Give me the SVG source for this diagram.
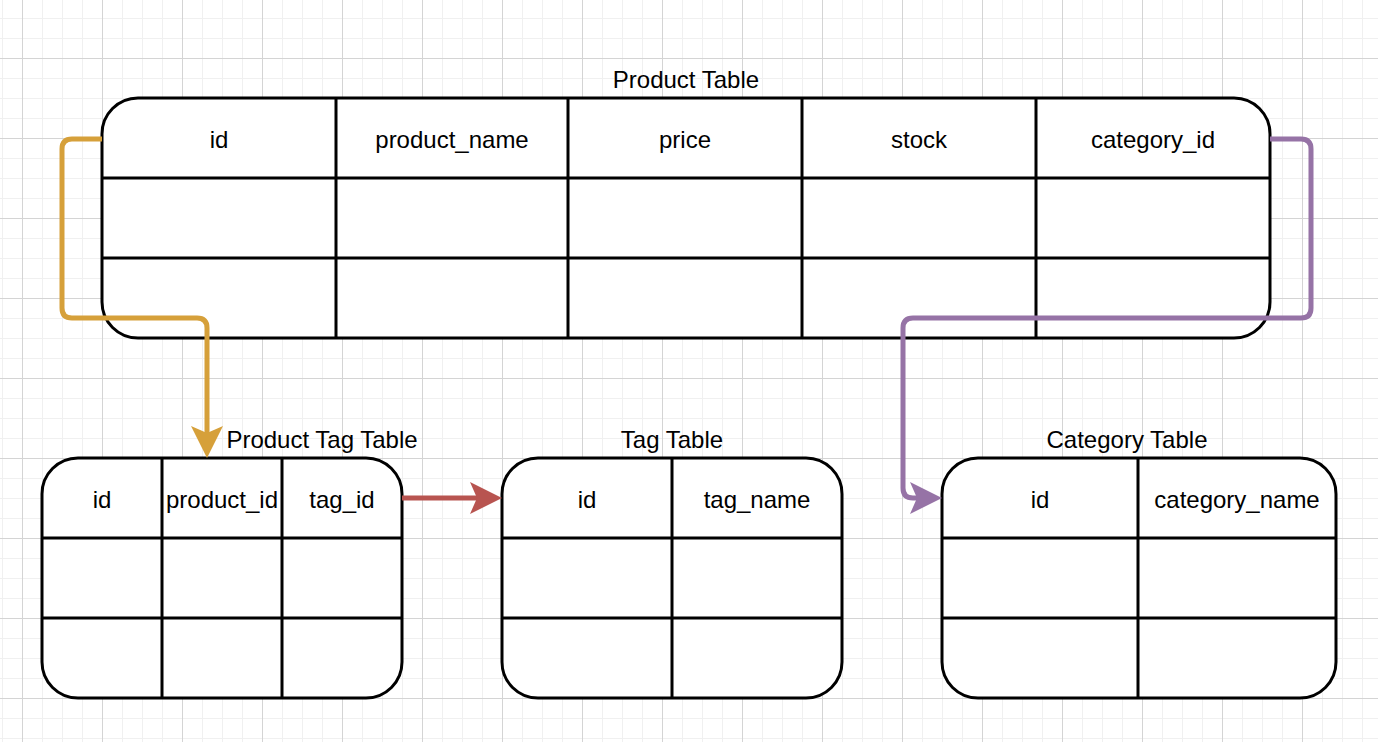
<svg xmlns="http://www.w3.org/2000/svg" width="1378" height="742" viewBox="0 0 1378 742">
<style>
.tbl{fill:#ffffff;stroke:#000000;stroke-width:3}
.ln{stroke:#000000;stroke-width:3;fill:none}
.t{font-family:"Liberation Sans",Arial,Helvetica,sans-serif;font-size:24px;fill:#000000;text-anchor:middle}
.c{fill:none;stroke-width:5;stroke-linejoin:round}
</style>
<defs>
<pattern id="grid" x="22" y="58" width="80" height="80" patternUnits="userSpaceOnUse">
<path d="M20.5,0V80M40.5,0V80M60.5,0V80M0,20.5H80M0,40.5H80M0,60.5H80" stroke="#f0f0f0" stroke-width="1" fill="none"/>
<path d="M0.5,0V80M0,0.5H80" stroke="#d4d4d4" stroke-width="1" fill="none"/>
</pattern>
<marker id="aO" markerUnits="userSpaceOnUse" viewBox="0 0 32 32" markerWidth="32" markerHeight="32" refX="7" refY="16" orient="auto"><path d="M0,0L32,16L0,32L7,16Z" fill="#d6a03a"/></marker>
<marker id="aR" markerUnits="userSpaceOnUse" viewBox="0 0 32 32" markerWidth="32" markerHeight="32" refX="7" refY="16" orient="auto"><path d="M0,0L32,16L0,32L7,16Z" fill="#b85450"/></marker>
<marker id="aP" markerUnits="userSpaceOnUse" viewBox="0 0 32 32" markerWidth="32" markerHeight="32" refX="7" refY="16" orient="auto"><path d="M0,0L32,16L0,32L7,16Z" fill="#9673a6"/></marker>
</defs>
<rect x="0" y="0" width="1378" height="742" fill="#ffffff"/>
<rect x="0" y="0" width="1378" height="742" fill="url(#grid)"/>

<g id="product-table">
<text class="t" x="686" y="88">Product Table</text>
<rect class="tbl" x="102" y="98" width="1168" height="240" rx="36" ry="36"/>
<path class="ln" d="M102,178H1270M102,258H1270M336,98V338M568,98V338M802,98V338M1036,98V338"/>
<text class="t" x="219" y="148">id</text>
<text class="t" x="452" y="148">product_name</text>
<text class="t" x="685" y="148">price</text>
<text class="t" x="919" y="148">stock</text>
<text class="t" x="1153" y="148">category_id</text>
</g>

<g id="product-tag-table">
<text class="t" x="322" y="448">Product Tag Table</text>
<rect class="tbl" x="42" y="458" width="360" height="240" rx="36" ry="36"/>
<path class="ln" d="M42,538H402M42,618H402M162,458V698M282,458V698"/>
<text class="t" x="102" y="508">id</text>
<text class="t" x="222" y="508">product_id</text>
<text class="t" x="342" y="508">tag_id</text>
</g>

<g id="tag-table">
<text class="t" x="672" y="448">Tag Table</text>
<rect class="tbl" x="502" y="458" width="340" height="240" rx="36" ry="36"/>
<path class="ln" d="M502,538H842M502,618H842M672,458V698"/>
<text class="t" x="587" y="508">id</text>
<text class="t" x="757" y="508">tag_name</text>
</g>

<g id="category-table">
<text class="t" x="1127" y="448">Category Table</text>
<rect class="tbl" x="942" y="458" width="394" height="240" rx="36" ry="36"/>
<path class="ln" d="M942,538H1336M942,618H1336M1138,458V698"/>
<text class="t" x="1040" y="508">id</text>
<text class="t" x="1237" y="508">category_name</text>
</g>

<g id="connectors">
<path class="c" stroke="#d6a03a" marker-end="url(#aO)" d="M102,139H72Q62,139 62,149V308Q62,318 72,318H197Q207,318 207,328V433"/>
<path class="c" stroke="#b85450" marker-end="url(#aR)" d="M402,498H477"/>
<path class="c" stroke="#9673a6" marker-end="url(#aP)" d="M1270,139H1301Q1311,139 1311,149V308Q1311,318 1301,318H913Q903,318 903,328V488Q903,498 913,498H917"/>
</g>
</svg>
